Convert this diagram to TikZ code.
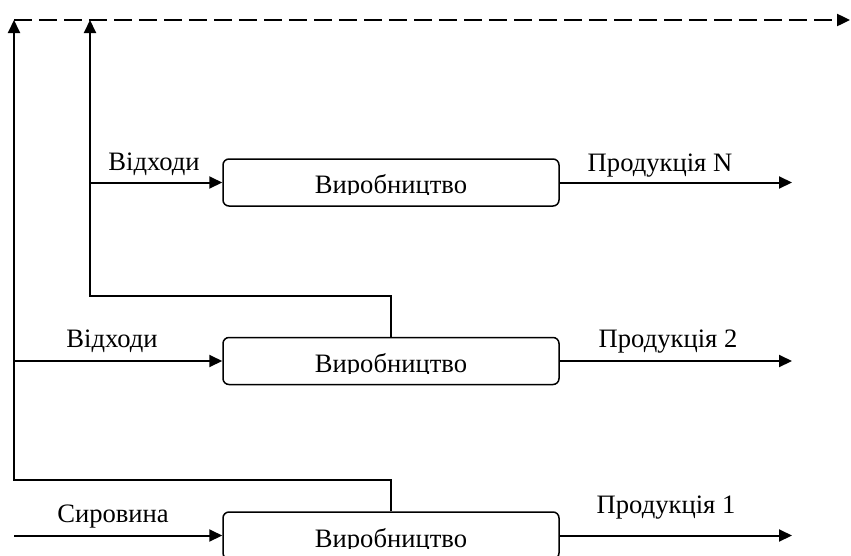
\documentclass[tikz,border=0pt]{standalone}
\usepackage{fontspec}
\setmainfont{Liberation Serif}
\usetikzlibrary{arrows.meta}

\begin{document}
\begin{tikzpicture}[x=1pt,y=-1pt,
  font=\fontsize{26.6}{32}\selectfont,
  stage/.style={draw, line width=1.5pt, rounded corners=6pt,
    minimum width=336pt, minimum height=47pt, inner sep=0pt},
  flow/.style={line width=2pt, -{Triangle[length=13pt,width=12pt]}},
  feedback/.style={line width=2.4pt, dash pattern=on 18pt off 7pt,
    -{Triangle[length=13pt,width=12pt]}},
  tag/.style={anchor=base, inner sep=0pt}]
\useasboundingbox (0,0) rectangle (851,555);

% production stages
\node[stage] (bN) at (391,182.5) {};
\node[stage] (b2) at (391,361) {};
\node[stage] (b1) at (391,535.5) {};

% stage captions, cut off just below the baseline
\begin{scope}
  \clip (bN.north west) rectangle (bN.east |- 0,194.5);
  \node[tag] (tN) at (391,193) {Виробництво};
\end{scope}
\begin{scope}
  \clip (b2.north west) rectangle (b2.east |- 0,373.5);
  \node[tag] (t2) at (391,372) {Виробництво};
\end{scope}
\begin{scope}
  \clip (b1.north west) rectangle (b1.east |- 0,548.5);
  \node[tag] (t1) at (391,547) {Виробництво};
\end{scope}

% waste collection line along the top
\coordinate (topL) at (14,20);
\coordinate (topR) at (850,20);
\draw[feedback] (topL) -- (topR);

% waste of stage 1 goes up the left rail
\coordinate (k1) at (14,480);
\draw[flow] (b1.north) |- (k1) -- (topL);
\coordinate (j2) at (14,361);
\draw[flow] (j2) -- (b2.west);

% waste of stage 2 goes up the second rail
\coordinate (k2) at (90,296);
\coordinate (top2) at (90,20);
\draw[flow] (b2.north) |- (k2) -- (top2);
\coordinate (jN) at (90,182.5);
\draw[flow] (jN) -- (bN.west);

% raw material input
\coordinate (in1) at (14,535.5);
\draw[flow] (in1) -- (b1.west);

% product outputs
\coordinate (oN) at (792,182.5);
\coordinate (o2) at (792,361);
\coordinate (o1) at (792,535.5);
\draw[flow] (bN.east) -- (oN);
\draw[flow] (b2.east) -- (o2);
\draw[flow] (b1.east) -- (o1);

% labels
\node[tag] (lwN) at (154,170) {Відходи};
\node[tag] (lw2) at (112,347) {Відходи};
\node[tag] (lr1) at (113,522) {Сировина};
\node[tag] (lpN) at (660,171) {Продукція N};
\node[tag] (lp2) at (668,347) {Продукція 2};
\node[tag] (lp1) at (666,513) {Продукція 1};
\end{tikzpicture}
\end{document}
